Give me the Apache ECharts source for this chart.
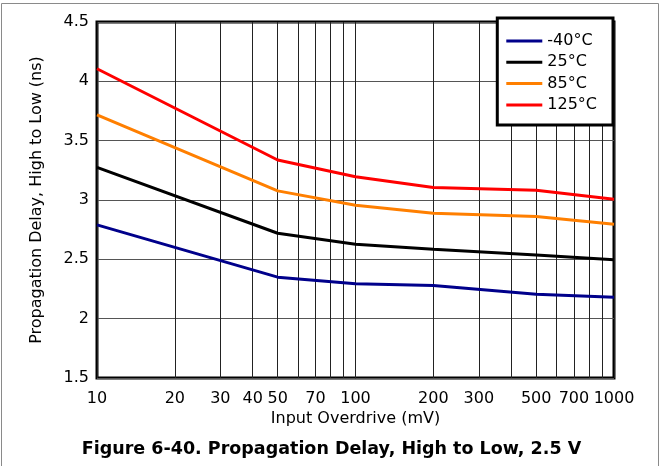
<!DOCTYPE html>
<html>
<head>
<meta charset="utf-8">
<script src="https://cdn.jsdelivr.net/npm/echarts@6/dist/echarts.min.js"></script>
<style>
  html, body { margin: 0; padding: 0; background: #fff; }
  #chart { width: 663px; height: 466px; }
</style>
</head>
<body>
<div id="chart"></div>
<script>
// input overdrive (mV), breakpoints of the curves
var overdrive = [10, 50, 100, 200, 500, 1000];
// propagation delay high-to-low (ns) per temperature
var delayM40 = [2.79, 2.35, 2.295, 2.28, 2.205, 2.18];
var delay25 = [3.275, 2.72, 2.627, 2.585, 2.537, 2.497];
var delay85 = [3.717, 3.077, 2.956, 2.889, 2.86, 2.796];
var delay125 = [4.106, 3.337, 3.196, 3.106, 3.083, 3.007];

var seriesNames = ["-40°C", "25°C", "85°C", "125°C"];
var seriesColors = ["#00008b", "#000000", "#ff7f00", "#ff0000"];

// log grid lines and the labelled ones
var xGridValues = [10, 20, 30, 40, 50, 60, 70, 80, 90, 100, 200, 300, 400, 500, 600, 700, 800, 900, 1000];
var xTickLabels = [10, 20, 30, 40, 50, 70, 100, 200, 300, 500, 700, 1000];

var FONT = "DejaVu Sans, Verdana, sans-serif";

function pairs(ys) {
  return overdrive.map(function (x, i) { return [x, ys[i]]; });
}

var chart = echarts.init(document.getElementById("chart"));

var series = [delayM40, delay25, delay85, delay125].map(function (ys, i) {
  return {
    name: seriesNames[i],
    type: "line",
    data: pairs(ys),
    showSymbol: false,
    symbol: "none",
    z: 3,
    lineStyle: { color: seriesColors[i], width: 3 },
    itemStyle: { color: seriesColors[i] }
  };
});

// vertical grid lines + x tick labels drawn on the log axis
series.unshift({
  name: "grid",
  type: "line",
  data: [],
  silent: true,
  z: 1,
  markLine: {
    silent: true,
    z: 1,
    symbol: "none",
    animation: false,
    lineStyle: { color: "#222", width: 1, type: "solid" },
    label: {
      show: true,
      position: "start",
      distance: 13,
      color: "#000",
      fontSize: 16,
      fontFamily: FONT,
      formatter: function (p) {
        return xTickLabels.indexOf(p.value) >= 0 ? String(p.value) : "";
      }
    },
    emphasis: { disabled: true },
    data: xGridValues.map(function (v) { return { xAxis: v }; })
  }
});

chart.setOption({
  animation: false,
  backgroundColor: "#fff",
  textStyle: { fontFamily: FONT },
  grid: {
    left: 97,
    right: 49,
    top: 22,
    bottom: 88,
    show: true,
    borderColor: "#000",
    borderWidth: 3,
    backgroundColor: "transparent"
  },
  legend: {
    data: seriesNames,
    orient: "vertical",
    right: 50,
    top: 18,
    backgroundColor: "#fff",
    borderColor: "#000",
    borderWidth: 3,
    borderRadius: 0,
    padding: [15, 16, 12, 9],
    itemGap: 5.3,
    itemWidth: 36,
    itemHeight: 3,
    icon: "rect",
    textStyle: { fontSize: 16, color: "#000", fontFamily: FONT }
  },
  xAxis: {
    type: "log",
    logBase: 10,
    min: 10,
    max: 1000,
    name: "Input Overdrive (mV)",
    nameLocation: "middle",
    nameGap: 33,
    nameTextStyle: { fontSize: 16, color: "#000", fontFamily: FONT },
    axisLine: { show: false },
    axisTick: { show: false },
    axisLabel: { show: false },
    splitLine: { show: false }
  },
  yAxis: {
    type: "value",
    min: 1.5,
    max: 4.5,
    interval: 0.5,
    name: "Propagation Delay, High to Low (ns)",
    nameLocation: "middle",
    nameGap: 52,
    nameTextStyle: { fontSize: 16, color: "#000", fontFamily: FONT },
    axisLine: { show: false },
    axisTick: { show: false },
    axisLabel: { fontSize: 16, color: "#000", margin: 8, fontFamily: FONT },
    splitLine: { show: true, lineStyle: { color: "#555", width: 1 } }
  },
  graphic: [
    {
      type: "rect",
      silent: true,
      z: 100,
      shape: { x: 1.5, y: 3.5, width: 657, height: 480 },
      style: { fill: "none", stroke: "#8a8a8a", lineWidth: 1 }
    },
    {
      type: "text",
      silent: true,
      left: "center",
      top: 440,
      style: {
        text: "Figure 6-40. Propagation Delay, High to Low, 2.5 V",
        font: "bold 17.5px " + FONT,
        fill: "#000"
      }
    }
  ],
  series: series
});
</script>
</body>
</html>
